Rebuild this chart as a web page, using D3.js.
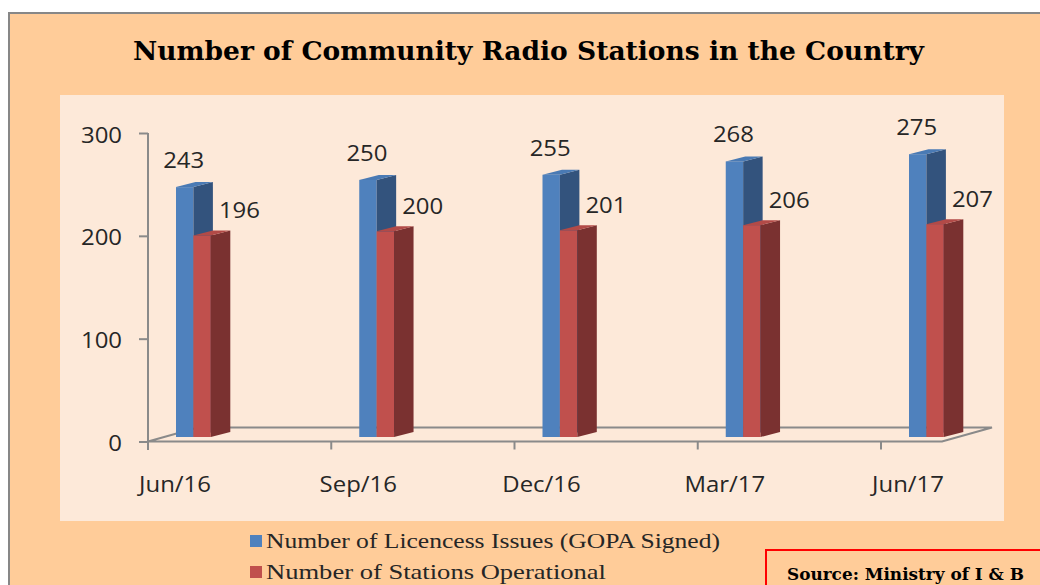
<!DOCTYPE html>
<html>
<head>
<meta charset="utf-8">
<script src="https://cdn.jsdelivr.net/npm/d3@7"></script>
<style>
  html, body { margin: 0; padding: 0; background: #ffffff; }
  svg { display: block; }
</style>
</head>
<body>
<svg id="chart" width="1040" height="585"></svg>
<script>
// Community radio stations, quarterly
const categories = ["Jun/16", "Sep/16", "Dec/16", "Mar/17", "Jun/17"];
const licencesIssued = [243, 250, 255, 268, 275];
const stationsOperational = [196, 200, 201, 206, 207];
const yTickValues = [0, 100, 200, 300];
const seriesNames = ["Number of Licencess Issues (GOPA Signed)", "Number of Stations Operational"];
const titleText = "Number of Community Radio Stations in the Country";
const sourceText = "Source: Ministry of I & B";

const svg = d3.select("#chart");

// outer frame and plot background
svg.append("rect").attr("x", 9).attr("y", 13).attr("width", 1040).attr("height", 600)
  .attr("fill", "#FFCC99").attr("stroke", "#878787").attr("stroke-width", 2);
svg.append("rect").attr("x", 60).attr("y", 95).attr("width", 944).attr("height", 426)
  .attr("fill", "#FDE9D9");

// title
svg.append("text").attr("x", 133).attr("y", 60)
  .attr("font-family", "DejaVu Serif").attr("font-weight", "bold").attr("font-size", 26)
  .attr("textLength", 791).attr("lengthAdjust", "spacingAndGlyphs")
  .attr("fill", "#000").text(titleText);

// scales
const x = d3.scalePoint().domain(categories).range([176, 909]);
const y = d3.scaleLinear().domain([0, 300]).range([441.5, 133]);

// 3D geometry
const barW = 17.4;          // width of one column face
const sideDX = 19.5, sideDY = -5;   // column depth projection
const barShiftY = -4.5;     // columns stand a little behind the front edge of the floor
const floorDX = 50, floorDY = -14;
const axisColor = "#8A8A8A";
const sx = 1.14;            // horizontal stretch for axis/label text

// floor outline
const fx0 = 148, fx1 = 942, fy = y(0);
svg.append("path")
  .attr("d", `M${fx0},${fy} L${fx1},${fy} L${fx1 + floorDX},${fy + floorDY} L${fx0 + floorDX},${fy + floorDY} Z`)
  .attr("fill", "none").attr("stroke", axisColor).attr("stroke-width", 2);

// y axis
const yAxis = d3.axisLeft(y).tickValues(yTickValues).tickSize(9).tickSizeOuter(0).tickPadding(17);
const gy = svg.append("g").attr("transform", `translate(148,0)`).call(yAxis);
gy.select(".domain").remove();
gy.selectAll(".tick line").attr("stroke", axisColor).attr("stroke-width", 2);
gy.selectAll(".tick text")
  .attr("font-family", "Open Sans").attr("font-size", 21).attr("fill", "#262626")
  .attr("dy", null).attr("y", 9)
  .attr("x", -26 / sx).attr("transform", `scale(${sx},1)`);
svg.append("line").attr("x1", 148).attr("x2", 148).attr("y1", y(300)).attr("y2", 450)
  .attr("stroke", axisColor).attr("stroke-width", 2);

// x ticks and category labels
const gx = svg.append("g");
gx.selectAll("line").data(categories).join("line")
  .attr("x1", d => x(d) - 28).attr("x2", d => x(d) - 28)
  .attr("y1", fy).attr("y2", fy + 8)
  .attr("stroke", axisColor).attr("stroke-width", 2);
gx.selectAll("text").data(categories).join("text")
  .attr("transform", d => `translate(${x(d) - 1},492) scale(${sx},1)`)
  .attr("text-anchor", "middle")
  .attr("font-family", "Open Sans").attr("font-size", 21).attr("fill", "#262626")
  .text(d => d);

// 3D column drawing
function column(g, x0, value, cFront, cSide, cTop) {
  const base = y(0) + barShiftY;
  const top = y(value) + barShiftY;
  g.append("rect").attr("x", x0).attr("y", top).attr("width", barW).attr("height", base - top).attr("fill", cFront);
  g.append("path")
    .attr("d", `M${x0 + barW},${top} L${x0 + barW + sideDX},${top + sideDY} L${x0 + barW + sideDX},${base + sideDY} L${x0 + barW},${base} Z`)
    .attr("fill", cSide);
  g.append("path")
    .attr("d", `M${x0},${top} L${x0 + sideDX},${top + sideDY} L${x0 + barW + sideDX},${top + sideDY} L${x0 + barW},${top} Z`)
    .attr("fill", cTop);
}

const bars = svg.append("g");
categories.forEach((c, i) => {
  const g = bars.append("g");
  column(g, x(c), licencesIssued[i], "#4F81BD", "#33537D", "#4A7AB4");
  column(g, x(c) + barW, stationsOperational[i], "#C0504D", "#7A3130", "#B24A47");
});

// value labels
const labelFont = { family: "Open Sans", size: 21 };
svg.append("g").selectAll("text").data(categories).join("text")
  .attr("transform", (d, i) => `translate(${x(d) + barW / 2 - 1},${y(licencesIssued[i]) + barShiftY - 19}) scale(${sx},1)`)
  .attr("text-anchor", "middle")
  .attr("font-family", labelFont.family).attr("font-size", labelFont.size).attr("fill", "#262626")
  .text((d, i) => licencesIssued[i]);
svg.append("g").selectAll("text").data(categories).join("text")
  .attr("transform", (d, i) => `translate(${x(d) + barW + 46},${y(stationsOperational[i]) + barShiftY - 17}) scale(${sx},1)`)
  .attr("text-anchor", "middle")
  .attr("font-family", labelFont.family).attr("font-size", labelFont.size).attr("fill", "#262626")
  .text((d, i) => stationsOperational[i]);

// legend
const legendColors = ["#4F81BD", "#C0504D"];
const legendLengths = [454, 340];
const legendRows = [548, 579];
const legend = svg.append("g");
seriesNames.forEach((name, i) => {
  const ly = legendRows[i];
  legend.append("rect").attr("x", 250).attr("y", ly - 13).attr("width", 12).attr("height", 12)
    .attr("fill", legendColors[i]);
  legend.append("text").attr("x", 266).attr("y", ly)
    .attr("font-family", "Liberation Serif").attr("font-size", 21).attr("fill", "#262626")
    .attr("textLength", legendLengths[i]).attr("lengthAdjust", "spacingAndGlyphs")
    .text(name);
});

// source note
svg.append("rect").attr("x", 766).attr("y", 550).attr("width", 300).attr("height", 60)
  .attr("fill", "#FFCC99").attr("stroke", "#FF0000").attr("stroke-width", 2);
svg.append("text").attr("x", 787).attr("y", 580)
  .attr("font-family", "DejaVu Serif").attr("font-weight", "bold").attr("font-size", 17)
  .attr("textLength", 237).attr("lengthAdjust", "spacingAndGlyphs")
  .attr("fill", "#000").text(sourceText);
</script>
</body>
</html>
